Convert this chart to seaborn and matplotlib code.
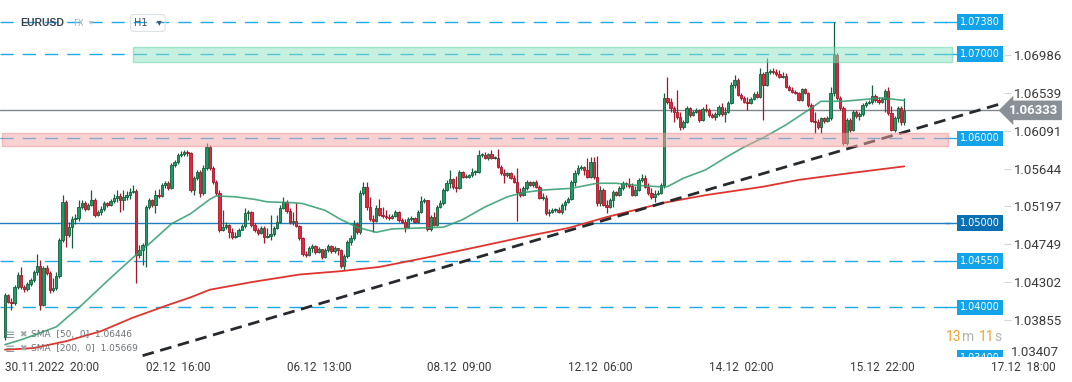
import numpy as np
import pandas as pd
import matplotlib
matplotlib.use("Agg")
import matplotlib.pyplot as plt
import matplotlib.transforms as mtransforms
import seaborn as sns

# EURUSD H1 candles from 30.11.2022 20:00 (open of each bar = previous close)
first_open = 1.0365
closes = [
    1.0415, 1.0407, 1.0405, 1.0424, 1.0439, 1.0424, 1.0422, 1.0428, 1.0433, 1.0442,
    1.0449, 1.0403, 1.0447, 1.0441, 1.0421, 1.0423, 1.0437, 1.0480, 1.0525, 1.0486,
    1.0495, 1.0505, 1.0506, 1.0519, 1.0524, 1.0517, 1.0521, 1.0527, 1.0509, 1.0513,
    1.0517, 1.0524, 1.0521, 1.0526, 1.0530, 1.0532, 1.0527, 1.0531, 1.0533, 1.0537,
    1.0538, 1.0462, 1.0468, 1.0474, 1.0519, 1.0527, 1.0521, 1.0533, 1.0532, 1.0545,
    1.0547, 1.0541, 1.0569, 1.0572, 1.0580, 1.0582, 1.0584, 1.0583, 1.0539, 1.0553,
    1.0560, 1.0536, 1.0565, 1.0590, 1.0565, 1.0549, 1.0536, 1.0492, 1.0495, 1.0498,
    1.0489, 1.0483, 1.0485, 1.0492, 1.0497, 1.0512, 1.0513, 1.0498, 1.0492, 1.0488,
    1.0494, 1.0483, 1.0485, 1.0487, 1.0494, 1.0501, 1.0518, 1.0525, 1.0514, 1.0501,
    1.0502, 1.0497, 1.0482, 1.0463, 1.0462, 1.0470, 1.0473, 1.0466, 1.0469, 1.0460,
    1.0468, 1.0473, 1.0467, 1.0470, 1.0468, 1.0449, 1.0461, 1.0478, 1.0482, 1.0499,
    1.0489, 1.0536, 1.0543, 1.0519, 1.0505, 1.0502, 1.0518, 1.0509, 1.0508, 1.0507,
    1.0506, 1.0508, 1.0513, 1.0504, 1.0501, 1.0495, 1.0505, 1.0506, 1.0501, 1.0513,
    1.0526, 1.0527, 1.0493, 1.0507, 1.0498, 1.0519, 1.0524, 1.0539, 1.0547, 1.0552,
    1.0543, 1.0541, 1.0560, 1.0554, 1.0554, 1.0557, 1.0560, 1.0560, 1.0580, 1.0580,
    1.0577, 1.0582, 1.0577, 1.0577, 1.0566, 1.0559, 1.0557, 1.0559, 1.0553, 1.0549,
    1.0537, 1.0533, 1.0541, 1.0549, 1.0545, 1.0549, 1.0543, 1.0530, 1.0530, 1.0512,
    1.0513, 1.0515, 1.0515, 1.0513, 1.0521, 1.0525, 1.0528, 1.0549, 1.0559, 1.0565,
    1.0566, 1.0563, 1.0554, 1.0572, 1.0554, 1.0524, 1.0539, 1.0521, 1.0519, 1.0527,
    1.0537, 1.0533, 1.0541, 1.0547, 1.0546, 1.0544, 1.0533, 1.0539, 1.0551, 1.0553,
    1.0543, 1.0536, 1.0531, 1.0534, 1.0536, 1.0545, 1.0648, 1.0643, 1.0636, 1.0631,
    1.0625, 1.0614, 1.0620, 1.0636, 1.0628, 1.0631, 1.0634, 1.0622, 1.0635, 1.0634,
    1.0628, 1.0625, 1.0629, 1.0637, 1.0629, 1.0631, 1.0642, 1.0663, 1.0669, 1.0652,
    1.0648, 1.0643, 1.0642, 1.0647, 1.0653, 1.0649, 1.0676, 1.0663, 1.0679, 1.0680,
    1.0679, 1.0676, 1.0673, 1.0674, 1.0661, 1.0657, 1.0655, 1.0654, 1.0646, 1.0659,
    1.0654, 1.0640, 1.0621, 1.0620, 1.0614, 1.0624, 1.0621, 1.0624, 1.0654, 1.0699,
    1.0648, 1.0636, 1.0595, 1.0622, 1.0610, 1.0631, 1.0627, 1.0629, 1.0640, 1.0642,
    1.0643, 1.0650, 1.0646, 1.0643, 1.0647, 1.0656, 1.0630, 1.0610, 1.0624, 1.0636,
    1.0620, 1.0633,
]
highs = [
    1.0417, 1.0416, 1.0411, 1.0427, 1.0442, 1.0448, 1.0427, 1.0430, 1.0435, 1.0444,
    1.0463, 1.0456, 1.0449, 1.0450, 1.0443, 1.0435, 1.0442, 1.0482, 1.0533, 1.0527,
    1.0501, 1.0508, 1.0511, 1.0527, 1.0527, 1.0526, 1.0524, 1.0539, 1.0530, 1.0515,
    1.0520, 1.0526, 1.0525, 1.0528, 1.0534, 1.0539, 1.0536, 1.0539, 1.0538, 1.0541,
    1.0545, 1.0540, 1.0474, 1.0476, 1.0521, 1.0530, 1.0528, 1.0539, 1.0540, 1.0547,
    1.0550, 1.0550, 1.0571, 1.0575, 1.0583, 1.0585, 1.0586, 1.0586, 1.0584, 1.0556,
    1.0563, 1.0563, 1.0569, 1.0595, 1.0592, 1.0568, 1.0551, 1.0539, 1.0515, 1.0501,
    1.0499, 1.0494, 1.0489, 1.0494, 1.0499, 1.0518, 1.0515, 1.0514, 1.0500, 1.0494,
    1.0497, 1.0497, 1.0494, 1.0509, 1.0497, 1.0509, 1.0521, 1.0531, 1.0527, 1.0518,
    1.0513, 1.0524, 1.0498, 1.0483, 1.0467, 1.0473, 1.0475, 1.0474, 1.0472, 1.0469,
    1.0470, 1.0475, 1.0474, 1.0473, 1.0470, 1.0469, 1.0463, 1.0480, 1.0486, 1.0504,
    1.0501, 1.0539, 1.0549, 1.0549, 1.0531, 1.0509, 1.0521, 1.0528, 1.0519, 1.0515,
    1.0511, 1.0511, 1.0515, 1.0514, 1.0506, 1.0505, 1.0507, 1.0508, 1.0507, 1.0515,
    1.0532, 1.0530, 1.0527, 1.0509, 1.0513, 1.0521, 1.0527, 1.0541, 1.0551, 1.0563,
    1.0553, 1.0556, 1.0563, 1.0562, 1.0558, 1.0558, 1.0565, 1.0563, 1.0586, 1.0583,
    1.0584, 1.0583, 1.0586, 1.0579, 1.0588, 1.0569, 1.0564, 1.0560, 1.0560, 1.0557,
    1.0565, 1.0541, 1.0544, 1.0551, 1.0550, 1.0550, 1.0551, 1.0545, 1.0536, 1.0533,
    1.0517, 1.0518, 1.0518, 1.0519, 1.0524, 1.0527, 1.0531, 1.0551, 1.0563, 1.0569,
    1.0569, 1.0568, 1.0577, 1.0578, 1.0578, 1.0579, 1.0544, 1.0541, 1.0527, 1.0530,
    1.0539, 1.0538, 1.0544, 1.0550, 1.0549, 1.0553, 1.0547, 1.0544, 1.0553, 1.0558,
    1.0557, 1.0547, 1.0541, 1.0539, 1.0539, 1.0547, 1.0654, 1.0673, 1.0648, 1.0638,
    1.0657, 1.0631, 1.0622, 1.0638, 1.0637, 1.0634, 1.0636, 1.0635, 1.0637, 1.0641,
    1.0636, 1.0630, 1.0631, 1.0640, 1.0642, 1.0637, 1.0644, 1.0667, 1.0675, 1.0672,
    1.0654, 1.0650, 1.0649, 1.0649, 1.0655, 1.0656, 1.0683, 1.0679, 1.0695, 1.0682,
    1.0683, 1.0682, 1.0681, 1.0679, 1.0678, 1.0663, 1.0661, 1.0657, 1.0655, 1.0660,
    1.0660, 1.0655, 1.0642, 1.0631, 1.0623, 1.0625, 1.0625, 1.0627, 1.0661, 1.0738,
    1.0701, 1.0650, 1.0638, 1.0624, 1.0624, 1.0634, 1.0634, 1.0631, 1.0642, 1.0644,
    1.0646, 1.0663, 1.0653, 1.0649, 1.0649, 1.0659, 1.0661, 1.0638, 1.0627, 1.0638,
    1.0638, 1.0648,
]
lows = [
    1.0362, 1.0405, 1.0397, 1.0403, 1.0422, 1.0422, 1.0418, 1.0420, 1.0426, 1.0430,
    1.0439, 1.0397, 1.0402, 1.0439, 1.0417, 1.0418, 1.0421, 1.0435, 1.0478, 1.0472,
    1.0483, 1.0470, 1.0499, 1.0502, 1.0517, 1.0514, 1.0515, 1.0520, 1.0507, 1.0508,
    1.0509, 1.0514, 1.0519, 1.0520, 1.0524, 1.0525, 1.0513, 1.0515, 1.0527, 1.0528,
    1.0536, 1.0429, 1.0459, 1.0450, 1.0448, 1.0517, 1.0519, 1.0512, 1.0530, 1.0531,
    1.0541, 1.0539, 1.0540, 1.0566, 1.0570, 1.0578, 1.0579, 1.0579, 1.0537, 1.0533,
    1.0551, 1.0531, 1.0533, 1.0563, 1.0563, 1.0546, 1.0533, 1.0489, 1.0491, 1.0493,
    1.0482, 1.0481, 1.0482, 1.0485, 1.0492, 1.0494, 1.0504, 1.0495, 1.0489, 1.0486,
    1.0487, 1.0476, 1.0482, 1.0480, 1.0485, 1.0493, 1.0500, 1.0517, 1.0512, 1.0499,
    1.0498, 1.0495, 1.0480, 1.0461, 1.0460, 1.0461, 1.0466, 1.0463, 1.0465, 1.0457,
    1.0459, 1.0466, 1.0465, 1.0465, 1.0462, 1.0447, 1.0444, 1.0459, 1.0474, 1.0480,
    1.0487, 1.0487, 1.0533, 1.0515, 1.0502, 1.0489, 1.0501, 1.0508, 1.0506, 1.0505,
    1.0504, 1.0505, 1.0507, 1.0501, 1.0500, 1.0489, 1.0494, 1.0502, 1.0500, 1.0500,
    1.0512, 1.0524, 1.0491, 1.0491, 1.0497, 1.0497, 1.0518, 1.0521, 1.0538, 1.0541,
    1.0540, 1.0537, 1.0540, 1.0553, 1.0553, 1.0553, 1.0554, 1.0557, 1.0559, 1.0578,
    1.0576, 1.0575, 1.0576, 1.0576, 1.0565, 1.0557, 1.0547, 1.0555, 1.0552, 1.0547,
    1.0502, 1.0531, 1.0532, 1.0539, 1.0544, 1.0543, 1.0541, 1.0528, 1.0527, 1.0509,
    1.0508, 1.0512, 1.0513, 1.0512, 1.0511, 1.0515, 1.0524, 1.0527, 1.0544, 1.0557,
    1.0563, 1.0557, 1.0553, 1.0553, 1.0552, 1.0520, 1.0520, 1.0520, 1.0512, 1.0518,
    1.0519, 1.0532, 1.0532, 1.0539, 1.0543, 1.0541, 1.0532, 1.0532, 1.0538, 1.0549,
    1.0541, 1.0533, 1.0528, 1.0525, 1.0533, 1.0534, 1.0541, 1.0641, 1.0631, 1.0620,
    1.0623, 1.0610, 1.0611, 1.0618, 1.0625, 1.0627, 1.0630, 1.0620, 1.0621, 1.0631,
    1.0625, 1.0624, 1.0622, 1.0627, 1.0627, 1.0620, 1.0630, 1.0641, 1.0660, 1.0650,
    1.0646, 1.0642, 1.0634, 1.0641, 1.0646, 1.0648, 1.0648, 1.0622, 1.0662, 1.0676,
    1.0676, 1.0674, 1.0672, 1.0672, 1.0660, 1.0656, 1.0654, 1.0653, 1.0644, 1.0644,
    1.0653, 1.0637, 1.0620, 1.0607, 1.0611, 1.0607, 1.0618, 1.0620, 1.0622, 1.0650,
    1.0646, 1.0634, 1.0592, 1.0592, 1.0608, 1.0609, 1.0624, 1.0622, 1.0627, 1.0637,
    1.0641, 1.0641, 1.0643, 1.0641, 1.0642, 1.0631, 1.0628, 1.0609, 1.0608, 1.0620,
    1.0616, 1.0616,
]

# moving averages (bar index -> value)
sma50_bars = [0, 6, 16, 24, 33, 40, 45, 52, 58, 64, 66, 72, 78, 82, 90, 93, 100, 105,
              110, 116, 121, 137, 143, 150, 157, 162, 168, 177, 185, 191, 196, 204, 207,
              212, 219, 225, 231, 237, 244, 250, 255, 262, 268, 274, 281]
sma50_vals = [1.0356, 1.0363, 1.0377, 1.0403, 1.0435, 1.0459, 1.0475, 1.0499, 1.0511,
              1.0528, 1.0532, 1.0531, 1.0528, 1.0525, 1.0524, 1.0523, 1.0515, 1.0504,
              1.0495, 1.0489, 1.0493, 1.0495, 1.0504, 1.0519, 1.0531, 1.0536, 1.0539,
              1.0541, 1.0547, 1.0547, 1.0545, 1.0543, 1.0543, 1.0553, 1.0563, 1.0577,
              1.0590, 1.0601, 1.0616, 1.0631, 1.0644, 1.0644, 1.0646, 1.0648, 1.0645]
sma200_bars = [0, 9, 19, 30, 40, 51, 58, 64, 77, 92, 105, 117, 133, 148, 164, 176, 188,
               206, 219, 237, 248, 264, 281]
sma200_vals = [1.0350, 1.0352, 1.0360, 1.0372, 1.0388, 1.0403, 1.0412, 1.0421, 1.0430,
               1.0439, 1.0443, 1.0448, 1.0460, 1.0472, 1.0485, 1.0494, 1.0507, 1.0524,
               1.0533, 1.0543, 1.0551, 1.0559, 1.0567]

trend_bars = [43, 312]
trend_prices = [1.0343, 1.0642]

levels = [1.0738, 1.0700, 1.0600, 1.0500, 1.0455, 1.0400, 1.0340]
level_labels = ["1.07380", "1.07000", "1.06000", "1.05000", "1.04550", "1.04000", "1.03400"]
green_zone = (1.0691, 1.0708)
red_zone = (1.0591, 1.06065)
green_zone_start = 40
red_zone_start = -1
last_price = 1.06333

price_ticks = [1.06986, 1.06539, 1.06091, 1.05644, 1.05197, 1.04749, 1.04302, 1.03855]
bottom_tick = 1.03407
tick_bars = [0, 44, 88, 132, 176, 220, 264, 308]
tick_labels = ["30.11.2022  20:00", "02.12  16:00", "06.12  13:00", "08.12  09:00",
               "12.12  06:00", "14.12  02:00", "15.12  22:00", "17.12  18:00"]
sma_legend = ["SMA  [50,  0]  1.06446", "SMA  [200,  0]  1.05669"]

sns.set_theme(style="white")
plt.rcParams["font.family"] = ["DejaVu Sans"]
narrow = ["Roboto", "DejaVu Sans"]

W, H = 1072, 382
fig = plt.figure(figsize=(W / 100, H / 100), dpi=100)
ax = fig.add_axes([0, 25 / H, 1004 / W, 357 / H])
for s in ax.spines.values():
    s.set_visible(False)

x0, x1 = -5 / 3.2, (1004 - 5) / 3.2
ax.set_xlim(x0, x1)
ax.set_ylim(1.03414, 1.07639)

df = pd.DataFrame({"close": closes, "high": highs, "low": lows})
df["bar"] = np.arange(len(df))
df["open"] = [first_open] + closes[:-1]
up = df["close"] >= df["open"]

# candles
fill = np.where(up, "#1f9a64", "#e2283d")
edge = np.where(up, "#145f3c", "#a3172a")
ax.vlines(df["bar"], df["low"], df["high"], colors=edge, lw=0.9, zorder=3)
body = (df["close"] - df["open"]).abs().clip(lower=0.00012)
ax.bar(df["bar"], body, bottom=np.minimum(df["open"], df["close"]), width=0.8,
       color=fill, edgecolor=edge, linewidth=0.6, zorder=4)

# moving averages + trend line
sns.lineplot(x=sma50_bars, y=sma50_vals, ax=ax, color="#2f9c6d", lw=1.2, alpha=0.85,
             estimator=None, sort=False, zorder=5)
sns.lineplot(x=sma200_bars, y=sma200_vals, ax=ax, color="#e0352f", lw=1.3,
             estimator=None, sort=False, zorder=5)
ax.plot(trend_bars, trend_prices, color="#262a2e", lw=2.0, ls=(0, (4.2, 2.4)), zorder=6)

# horizontal levels
trans = mtransforms.blended_transform_factory(ax.transAxes, ax.transData)
end = 950 / 1004
for lv, lab in zip(levels, level_labels):
    if lv == 1.05:
        lc, bc, style = "#1f7fc1", "#0b6fb3", "-"
    else:
        lc, bc, style = "#1eaaea", "#12a3e8", (0, (9.5, 6.5))
    ax.axhline(lv, xmin=0, xmax=end, color=lc, lw=1.0, ls=style, zorder=2)
    ax.plot([945 / 1004, 957 / 1004], [lv, lv], transform=trans, color=lc, lw=1.0, zorder=2)
    ax.text(980 / 1004, lv, lab, transform=trans, ha="center", va="center", fontsize=7,
            color="white", zorder=10, clip_on=True,
            bbox=dict(boxstyle="square,pad=0.28", fc=bc, ec="none"))

# zones (drawn over candles, semi-transparent)
span = x1 - x0
ax.axhspan(*green_zone, xmin=(green_zone_start - x0) / span, xmax=952 / 1004,
           fc="#8fe3c3", ec="#5cd3a5", lw=1.0, alpha=0.5, zorder=7)
ax.axhspan(*red_zone, xmin=(red_zone_start - x0) / span, xmax=948 / 1004,
           fc="#f3a7a7", ec="#ec8a8a", lw=1.0, alpha=0.5, zorder=7)

# last price
ax.axhline(last_price, xmin=0, xmax=1000 / 1004, color="#7e858b", lw=1.0, zorder=2)
ax.text(1034 / 1004, last_price, f"{last_price:.5f}", transform=trans, ha="center",
        va="center", fontsize=9.5, weight="bold", color="white", family=narrow,
        clip_on=False, zorder=11,
        bbox=dict(boxstyle="larrow,pad=0.25", fc="#8a9196", ec="none"))

# axes ticks
ax.yaxis.tick_right()
ax.set_yticks(price_ticks)
ax.set_yticklabels([f"{v:.5f}" for v in price_ticks], family=narrow)
ax.tick_params(axis="y", length=5, width=0.8, color="#d5d5d5", pad=2,
               labelsize=9.5, labelcolor="#3a3a3a")
ax.set_xticks(tick_bars)
ax.set_xticklabels(tick_labels, ha="left", family=narrow)
ax.tick_params(axis="x", length=0, pad=3, labelsize=8.5, labelcolor="#3a3a3a")
ax.set_xlabel("")
ax.set_ylabel("")
fig.text(1011 / W, 1 - 352 / H, f"{bottom_tick:.5f}", ha="left", va="center",
         fontsize=9.5, color="#3a3a3a", family=narrow)

# header
fig.text(20 / W, 1 - 23 / H, "EURUSD", fontsize=7.5, weight="bold", color="#3b4650",
         family=["Liberation Sans", "DejaVu Sans"], va="center")
fig.text(73 / W, 1 - 24 / H, "FX", fontsize=6, color="#a3adb5", va="center")
fig.text(89 / W, 1 - 22 / H, "\u25be", fontsize=6, color="#b9c1c7", va="center")
fig.text(134 / W, 1 - 23 / H, "H1   \u25be", fontsize=7, color="#4a545c", va="center",
         bbox=dict(boxstyle="round,pad=0.35,rounding_size=0.3", fc="none",
                   ec="#dde2e5", lw=0.8))

# indicator legend
for lab, yy in zip(sma_legend, [335, 349]):
    fig.text(5 / W, 1 - yy / H, "\u2261", fontsize=9, color="#8f959a", va="center")
    fig.text(19 / W, 1 - yy / H, "\u2716", fontsize=6.5, color="#a0a5a9", va="center")
    fig.text(31 / W, 1 - yy / H, lab, fontsize=6.5, color="#6d7378", va="center")

# countdown
for txt, xx, col in [("13", 946, "#f5a02a"), ("m", 962, "#b3b3b3"),
                     ("11", 979, "#f5a02a"), ("s", 994, "#b3b3b3")]:
    fig.text(xx / W, 1 - 337 / H, txt, fontsize=10, color=col, va="center",
             family=narrow)

fig.savefig("out.png", dpi=100)
